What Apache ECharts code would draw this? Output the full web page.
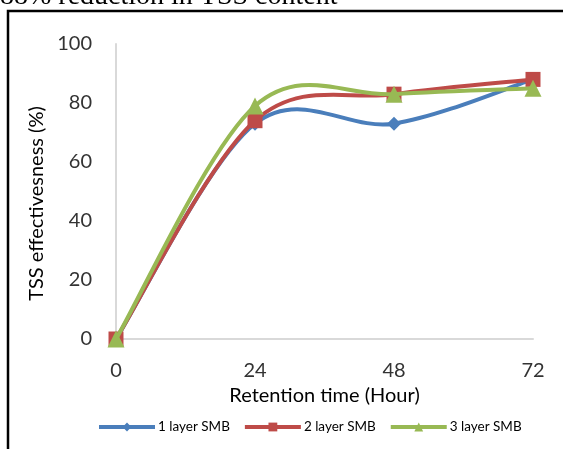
<!DOCTYPE html>
<html>
<head>
<meta charset="utf-8">
<script src="https://cdn.jsdelivr.net/npm/echarts@6/dist/echarts.min.js"></script>
<style>
html,body{margin:0;padding:0;background:#fff;}
#c{width:563px;height:449px;}
</style>
</head>
<body>
<div id="c"></div>
<script>
var hours = [0, 24, 48, 72];
var xTicks = [0, 24, 48, 72];
var yTicks = [0, 20, 40, 60, 80, 100];
var seriesNames = ['1 layer SMB', '2 layer SMB', '3 layer SMB'];
var layer1 = [0, 73, 73, 88];
var layer2 = [0, 74, 83, 88];
var layer3 = [0, 79, 83, 85];
var colors = ['#4a7ebb', '#be4b48', '#98b954'];
var symbols = ['diamond', 'rect', 'triangle'];
var symbolSizes = [14, 15, 17];

function pairs(vals){ return hours.map(function(h,i){ return [h, vals[i]]; }); }
var allVals = [layer1, layer2, layer3];

// Excel-style smoothed curve (cardinal spline) drawn through the axis scales
function makeCurveRenderer(vals, color){
  var pts = pairs(vals);
  return function(params, api){
    if (params.dataIndex !== 0) return null;
    var p = pts.map(function(d){ return api.coord(d); });
    var n = p.length;
    var d = 'M' + p[0][0] + ' ' + p[0][1];
    for (var i = 0; i < n - 1; i++){
      var p0 = p[Math.max(i-1,0)], p1 = p[i], p2 = p[i+1], p3 = p[Math.min(i+2,n-1)];
      var c1x = p1[0] + (p2[0]-p0[0])/6, c1y = p1[1] + (p2[1]-p0[1])/6;
      var c2x = p2[0] - (p3[0]-p1[0])/6, c2y = p2[1] - (p3[1]-p1[1])/6;
      d += ' C' + c1x + ' ' + c1y + ' ' + c2x + ' ' + c2y + ' ' + p2[0] + ' ' + p2[1];
    }
    return {type: 'path', shape: {pathData: d}, style: {fill: 'none', stroke: color, lineWidth: 4, lineJoin: 'round', lineCap: 'round'}};
  };
}

var chart = echarts.init(document.getElementById('c'));
var font = 'Lato, "Open Sans", sans-serif';
var series = [];
allVals.forEach(function(v, i){
  series.push({
    type: 'custom', renderItem: makeCurveRenderer(v, colors[i]),
    data: pairs(v), encode: {x: 0, y: 1}, z: 2 + 2*i, silent: true, clip: false
  });
  series.push({
    name: seriesNames[i], type: 'line',
    data: pairs(v), z: 3 + 2*i,
    symbol: symbols[i], symbolSize: symbolSizes[i], showAllSymbol: true,
    lineStyle: {color: colors[i], width: 4, opacity: 0},
    itemStyle: {color: colors[i]}
  });
});

chart.setOption({
  animation: false,
  grid: {left: 116, right: 30, top: 44, bottom: 110, containLabel: false},
  xAxis: {
    type: 'value', min: xTicks[0], max: xTicks[xTicks.length-1], interval: 24,
    name: 'Retention time (Hour)', nameLocation: 'middle', nameGap: 46,
    nameTextStyle: {fontFamily: font, fontSize: 20, color: '#000'},
    axisLine: {show: true, lineStyle: {color: '#d9d9d9', width: 2}},
    axisTick: {show: false},
    splitLine: {show: false},
    axisLabel: {fontFamily: font, fontSize: 20, color: '#333', margin: 22}
  },
  yAxis: {
    type: 'value', min: yTicks[0], max: yTicks[yTicks.length-1], interval: 20,
    name: 'TSS effectivesness (%)', nameLocation: 'middle', nameGap: 62,
    nameTextStyle: {fontFamily: font, fontSize: 20, color: '#000', padding: [0, 24, 0, 0]},
    axisLine: {show: true, lineStyle: {color: '#d9d9d9', width: 2}},
    axisTick: {show: false},
    splitLine: {show: false},
    axisLabel: {fontFamily: font, fontSize: 20, color: '#333', margin: 24}
  },
  legend: {
    top: 415, left: 92, itemGap: 13, itemWidth: 56, itemHeight: 11,
    textStyle: {fontFamily: font, fontSize: 13.5, color: '#000', padding: [0,0,0,-2]},
    data: seriesNames.map(function(n, i){
      return {name: n, lineStyle: {color: colors[i], width: 4, opacity: 1}};
    })
  },
  series: series,
  graphic: [
    {type: 'rect', shape: {x: 8, y: 11, width: 600, height: 500}, style: {fill: 'none', stroke: '#000', lineWidth: 2.5}, silent: true, z: 100},
    {type: 'text', x: 0, y: 0, style: {x: 0, y: 11, text: '88% reduction in TSS content', font: '28px "Liberation Serif", serif', fill: '#000', verticalAlign: 'bottom'}, silent: true, z: 100}
  ]
});
</script>
</body>
</html>
